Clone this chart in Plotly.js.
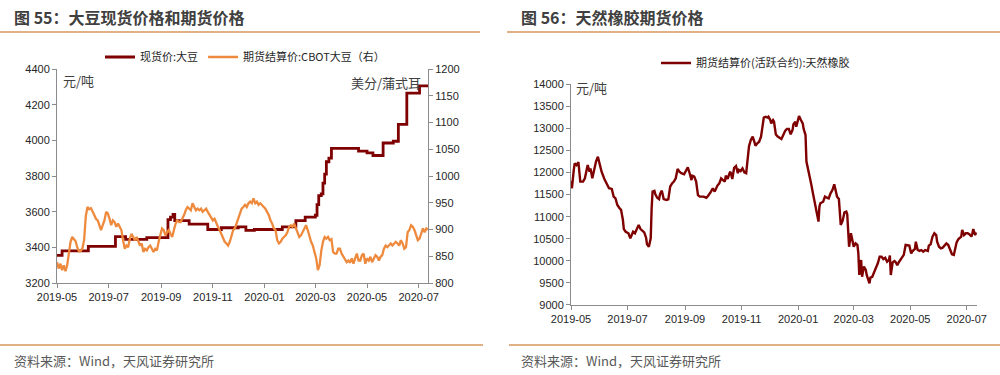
<!DOCTYPE html>
<html><head><meta charset="utf-8">
<script src="https://cdn.plot.ly/plotly-3.0.1.min.js"></script>
<style>html,body{margin:0;padding:0;background:#fff}#chart{width:1000px;height:375px}</style>
</head><body><div id="chart"></div>
<script>
// ---------- Chart 55: soybean spot (left axis) & CBOT futures (right axis) ----------
const spotDates = ['2019-05-01','2019-05-07','2019-06-07','2019-07-09','2019-07-21','2019-08-15','2019-09-07','2019-09-09','2019-09-12','2019-09-15','2019-09-17','2019-10-04','2019-10-26','2019-11-11','2019-12-01','2019-12-10','2019-12-20','2020-01-22','2020-02-07','2020-02-18','2020-03-01','2020-03-03','2020-03-05','2020-03-08','2020-03-10','2020-03-12','2020-03-14','2020-03-17','2020-03-20','2020-04-21','2020-05-01','2020-05-08','2020-05-20','2020-06-01','2020-06-07','2020-06-17','2020-07-02','2020-07-12'];
const spotValues = [3355,3380,3405,3460,3445,3455,3455,3555,3570,3585,3550,3530,3500,3510,3515,3495,3500,3515,3550,3570,3580,3640,3690,3700,3760,3810,3880,3900,3955,3940,3930,3915,3985,3995,4090,4265,4305,4305];

const cbotDates = [
'2019-05-01','2019-05-03','2019-05-05','2019-05-07','2019-05-09','2019-05-11','2019-05-13','2019-05-15','2019-05-17','2019-05-19','2019-05-21','2019-05-23','2019-05-25','2019-05-27','2019-05-29','2019-05-31',
'2019-06-02','2019-06-04','2019-06-06','2019-06-08','2019-06-10','2019-06-12','2019-06-14','2019-06-16','2019-06-18','2019-06-20','2019-06-22','2019-06-24','2019-06-26','2019-06-28','2019-06-30',
'2019-07-02','2019-07-04','2019-07-06','2019-07-08','2019-07-10','2019-07-12','2019-07-14','2019-07-16','2019-07-18','2019-07-20','2019-07-22','2019-07-24','2019-07-26','2019-07-28','2019-07-30',
'2019-08-01','2019-08-03','2019-08-05','2019-08-07','2019-08-09','2019-08-11','2019-08-13','2019-08-15','2019-08-17','2019-08-19','2019-08-21','2019-08-23','2019-08-25','2019-08-27','2019-08-29','2019-08-31',
'2019-09-02','2019-09-04','2019-09-06','2019-09-08','2019-09-10','2019-09-12','2019-09-14','2019-09-16','2019-09-18','2019-09-20','2019-09-22','2019-09-24','2019-09-26','2019-09-28','2019-09-30',
'2019-10-02','2019-10-04','2019-10-06','2019-10-08','2019-10-10','2019-10-12','2019-10-14','2019-10-16','2019-10-18','2019-10-20','2019-10-22','2019-10-24','2019-10-26','2019-10-28','2019-10-30',
'2019-11-01','2019-11-03','2019-11-05','2019-11-07','2019-11-09','2019-11-11','2019-11-13','2019-11-15','2019-11-17','2019-11-19','2019-11-21','2019-11-23','2019-11-25','2019-11-27','2019-11-29',
'2019-12-01','2019-12-03','2019-12-05','2019-12-07','2019-12-09','2019-12-11','2019-12-13','2019-12-15','2019-12-17','2019-12-19','2019-12-21','2019-12-23','2019-12-25','2019-12-27','2019-12-29','2019-12-31',
'2020-01-02','2020-01-04','2020-01-06','2020-01-08','2020-01-10','2020-01-12','2020-01-14','2020-01-16','2020-01-18','2020-01-20','2020-01-22','2020-01-24','2020-01-26','2020-01-28','2020-01-30',
'2020-02-01','2020-02-03','2020-02-05','2020-02-07','2020-02-09','2020-02-11','2020-02-13','2020-02-15','2020-02-17','2020-02-19','2020-02-21','2020-02-23','2020-02-25','2020-02-27','2020-02-29',
'2020-03-02','2020-03-04','2020-03-06','2020-03-08','2020-03-10','2020-03-12','2020-03-14','2020-03-16','2020-03-18','2020-03-20','2020-03-22','2020-03-24','2020-03-26','2020-03-28','2020-03-30',
'2020-04-01','2020-04-03','2020-04-05','2020-04-07','2020-04-09','2020-04-11','2020-04-13','2020-04-15','2020-04-17','2020-04-19','2020-04-21','2020-04-23','2020-04-25','2020-04-27','2020-04-29',
'2020-05-01','2020-05-03','2020-05-05','2020-05-07','2020-05-09','2020-05-11','2020-05-13','2020-05-15','2020-05-17','2020-05-19','2020-05-21','2020-05-23','2020-05-25','2020-05-27','2020-05-29','2020-05-31',
'2020-06-02','2020-06-04','2020-06-06','2020-06-08','2020-06-10','2020-06-12','2020-06-14','2020-06-16','2020-06-18','2020-06-20','2020-06-22','2020-06-24','2020-06-26','2020-06-28','2020-06-30',
'2020-07-02','2020-07-04','2020-07-06','2020-07-08','2020-07-10','2020-07-12'];
const cbotValues = [
839,827,836,824,833,822,833,852,877,886,882,878,866,859,860,865,880,925,942,938,940,932,927,920,917,908,
899,908,917,933,930,920,908,917,914,905,911,905,899,880,864,870,867,883,892,886,880,886,877,870,874,858,864,861,867,870,864,858,864,861,877,892,902,899,889,895,899,892,886,899,911,917,914,914,920,927,936,942,
939,936,949,942,936,939,936,939,933,936,939,933,927,920,917,920,911,905,899,892,886,877,874,870,877,889,899,902,911,920,933,939,942,946,942,949,952,949,958,949,952,946,949,946,942,939,933,927,917,911,902,899,
880,874,877,883,886,889,895,905,908,905,911,902,895,886,889,895,902,908,899,886,877,870,858,846,824,833,860,877,886,883,886,880,882,858,855,855,864,864,855,849,846,839,842,838,846,836,846,855,842,842,852,855,
836,846,842,849,839,846,852,849,842,849,852,864,870,867,870,874,870,874,877,874,870,880,874,864,867,895,899,908,905,899,889,880,883,895,902,895,902,900];

// ---------- Chart 56: natural rubber futures ----------
const rubberDates = [
'2019-05-01','2019-05-02','2019-05-04','2019-05-05','2019-05-07','2019-05-09','2019-05-11','2019-05-14','2019-05-16','2019-05-18',
'2019-05-19','2019-05-21','2019-05-22','2019-05-24','2019-05-26','2019-05-28','2019-05-30','2019-06-01','2019-06-03','2019-06-06',
'2019-06-09','2019-06-11','2019-06-14','2019-06-16','2019-06-18','2019-06-20','2019-06-22','2019-06-24','2019-06-26','2019-06-27',
'2019-06-29','2019-07-02','2019-07-04','2019-07-06','2019-07-07','2019-07-09','2019-07-11','2019-07-13','2019-07-15','2019-07-17',
'2019-07-19','2019-07-21','2019-07-22','2019-07-24','2019-07-26','2019-07-27','2019-07-28','2019-07-30','2019-07-31','2019-08-02',
'2019-08-04','2019-08-05','2019-08-07','2019-08-09','2019-08-12','2019-08-14','2019-08-16','2019-08-18','2019-08-20','2019-08-22',
'2019-08-24','2019-08-26','2019-08-28','2019-08-31','2019-09-02','2019-09-04','2019-09-06','2019-09-08','2019-09-09','2019-09-11',
'2019-09-13','2019-09-15','2019-09-17','2019-09-21','2019-09-24','2019-09-26','2019-09-29','2019-10-01','2019-10-03','2019-10-05',
'2019-10-06','2019-10-08','2019-10-10','2019-10-12','2019-10-14','2019-10-15','2019-10-17','2019-10-19','2019-10-20','2019-10-22',
'2019-10-24','2019-10-26','2019-10-28','2019-10-29','2019-10-31','2019-11-02','2019-11-04','2019-11-06','2019-11-07','2019-11-09',
'2019-11-11','2019-11-13','2019-11-15','2019-11-16','2019-11-18','2019-11-20','2019-11-22','2019-11-24','2019-11-25','2019-11-27',
'2019-11-29','2019-11-30','2019-12-02','2019-12-03','2019-12-05','2019-12-06','2019-12-08','2019-12-10','2019-12-12','2019-12-14',
'2019-12-16','2019-12-18','2019-12-20','2019-12-22','2019-12-24','2019-12-26','2019-12-27','2019-12-29','2019-12-30','2020-01-01',
'2020-01-02','2020-01-04','2020-01-06','2020-01-07','2020-01-09','2020-01-10','2020-01-13','2020-01-15','2020-01-17','2020-01-19',
'2020-01-21','2020-01-23','2020-01-24','2020-01-25','2020-01-28','2020-01-30','2020-02-01','2020-02-03','2020-02-05','2020-02-07',
'2020-02-09','2020-02-11','2020-02-12','2020-02-14','2020-02-16','2020-02-18','2020-02-20','2020-02-22','2020-02-23','2020-02-25',
'2020-02-27','2020-02-28','2020-03-01','2020-03-03','2020-03-05','2020-03-06','2020-03-07','2020-03-09','2020-03-10','2020-03-12',
'2020-03-14','2020-03-15','2020-03-18','2020-03-19','2020-03-21','2020-03-23','2020-03-25','2020-03-27','2020-03-29','2020-03-31',
'2020-04-02','2020-04-04','2020-04-06','2020-04-08','2020-04-09','2020-04-10','2020-04-12','2020-04-14','2020-04-15','2020-04-17',
'2020-04-19','2020-04-21','2020-04-23','2020-04-24','2020-04-26','2020-04-28','2020-04-30','2020-05-02','2020-05-03','2020-05-06',
'2020-05-07','2020-05-09','2020-05-11','2020-05-13','2020-05-15','2020-05-17','2020-05-20','2020-05-21','2020-05-23','2020-05-25',
'2020-05-27','2020-05-29','2020-05-30','2020-06-01','2020-06-03','2020-06-05','2020-06-07','2020-06-09','2020-06-11','2020-06-13',
'2020-06-15','2020-06-17','2020-06-18','2020-06-20','2020-06-22','2020-06-25','2020-06-26','2020-06-28','2020-06-30','2020-07-02',
'2020-07-04','2020-07-06','2020-07-07','2020-07-08','2020-07-10','2020-07-11'];
const rubberValues = [
11810,11645,12060,12210,12170,12235,11795,11795,11870,12135,
12170,12020,12095,11870,12060,12250,12360,12170,12020,11855,
11720,11645,11630,11455,11415,11265,11205,11155,10925,10720,
10660,10625,10510,10625,10660,10625,10735,10815,10720,10675,
10645,10525,10375,10320,10510,11190,11570,11585,11510,11430,
11400,11510,11590,11400,11380,11395,11680,11755,11795,11870,
12080,12020,11985,11960,12035,12120,11985,11830,11930,11910,
11795,11490,11455,11455,11430,11475,11570,11645,11570,11660,
11705,11755,11870,11830,11795,11930,11855,11985,12020,11855,
12110,12150,11985,12060,12035,12095,12005,11985,12250,12590,
12740,12815,12685,12610,12665,12700,12815,13115,13245,13265,
13245,13265,13190,13115,13190,13155,12865,12815,12790,12760,
12850,12945,12990,12990,12865,12965,13095,13155,13040,13230,
13280,13190,13115,12990,12850,12250,11985,11755,11530,11305,
11075,10890,11230,11305,11340,11455,11430,11415,11530,11605,
11735,11570,11455,11400,10815,10905,11100,11115,11055,10320,
10625,10525,10320,10395,10360,10170,9680,10020,9640,9870,
9795,9680,9490,9620,9640,9740,9830,9945,10095,10095,
10040,10070,9980,10020,10120,9680,9965,9995,9980,9905,
9980,10040,10095,10135,10360,10360,10345,10170,10210,10270,
10435,10245,10225,10245,10210,10245,10225,10345,10375,10550,
10625,10585,10435,10320,10285,10300,10345,10395,10360,10270,
10150,10135,10245,10420,10495,10550,10700,10585,10625,10625,
10600,10550,10625,10720,10585,10645];

// ---------- Axis ticks & text ----------
const xTickVals = ['2019-05-01','2019-07-01','2019-09-01','2019-11-01','2020-01-01','2020-03-01','2020-05-01','2020-07-01'];
const xTickText = ['2019-05','2019-07','2019-09','2019-11','2020-01','2020-03','2020-05','2020-07'];
const names = {spot:'现货价:大豆', cbot:'期货结算价:CBOT大豆（右）', rubber:'期货结算价(活跃合约):天然橡胶'};
const titles = {left:'图 55：大豆现货价格和期货价格', right:'图 56：天然橡胶期货价格'};
const sourceText = '资料来源：Wind，天风证券研究所';

const DARK = '#7f0000', ORANGE = '#ee8a3d', AX = '#8c8c8c', TXT = '#262626', RULE = '#d8965c';
const NUMFONT = 'Liberation Sans, Arial, sans-serif';
const CJK = 'Noto Sans CJK SC, sans-serif';

const traces = [
  {x: spotDates, y: spotValues, name: names.spot, type:'scatter', mode:'lines', line:{color:DARK, width:2.8, shape:'hv'}, xaxis:'x', yaxis:'y', legend:'legend'},
  {x: cbotDates, y: cbotValues, name: names.cbot, type:'scatter', mode:'lines', line:{color:ORANGE, width:2.3}, xaxis:'x', yaxis:'y2', legend:'legend'},
  {x: rubberDates, y: rubberValues, name: names.rubber, type:'scatter', mode:'lines', line:{color:DARK, width:2.4}, xaxis:'x2', yaxis:'y3', legend:'legend2'}
];

const axBase = {showline:true, linecolor:AX, linewidth:1, ticks:'outside', ticklen:4, tickcolor:AX, showgrid:false, zeroline:false, tickfont:{family:NUMFONT, size:11, color:TXT}, fixedrange:true};

const layout = {
  width:1000, height:375, margin:{l:0,r:0,t:0,b:0}, paper_bgcolor:'#fff', plot_bgcolor:'#fff',
  font:{family:CJK, color:TXT},
  showlegend:true,
  xaxis: Object.assign({}, axBase, {type:'date', domain:[0.057,0.428], anchor:'y', range:['2019-05-01','2020-07-12'], tickmode:'array', tickvals:xTickVals, ticktext:xTickText}),
  yaxis: Object.assign({}, axBase, {domain:[0.2453,0.816], anchor:'x', range:[3200,4400], dtick:200, tick0:3200, tickformat:'d'}),
  yaxis2: Object.assign({}, axBase, {overlaying:'y', side:'right', anchor:'x', range:[800,1200], dtick:50, tick0:800, tickformat:'d'}),
  xaxis2: Object.assign({}, axBase, {type:'date', domain:[0.571,0.977], anchor:'y3', range:['2019-05-01','2020-07-12'], tickmode:'array', tickvals:xTickVals, ticktext:xTickText}),
  yaxis3: Object.assign({}, axBase, {domain:[0.1867,0.7752], anchor:'x2', range:[9000,14000], dtick:500, tick0:9000, tickformat:'d'}),
  legend: {orientation:'h', x:0.100, y:0.848, xanchor:'left', yanchor:'middle', font:{family:CJK, size:11, color:TXT}, bgcolor:'rgba(0,0,0,0)', itemwidth:30},
  legend2: {orientation:'h', x:0.656, y:0.832, xanchor:'left', yanchor:'middle', font:{family:CJK, size:11, color:TXT}, bgcolor:'rgba(0,0,0,0)', itemwidth:30},
  shapes: [
    {type:'line', xref:'paper', yref:'paper', x0:0, x1:0.48, y0:1-32/375, y1:1-32/375, line:{color:RULE, width:1.5}},
    {type:'line', xref:'paper', yref:'paper', x0:0.507, x1:1, y0:1-32/375, y1:1-32/375, line:{color:RULE, width:1.5}},
    {type:'line', xref:'paper', yref:'paper', x0:0, x1:0.483, y0:1-345/375, y1:1-345/375, line:{color:RULE, width:1.5}},
    {type:'line', xref:'paper', yref:'paper', x0:0.509, x1:1, y0:1-345/375, y1:1-345/375, line:{color:RULE, width:1.5}}
  ],
  annotations: [
    {text:'<b>'+titles.left+'</b>', xref:'paper', yref:'paper', x:0.012, y:1-17/375, xanchor:'left', yanchor:'middle', showarrow:false, font:{family:CJK, size:16, color:'#404040'}},
    {text:'<b>'+titles.right+'</b>', xref:'paper', yref:'paper', x:0.519, y:1-17/375, xanchor:'left', yanchor:'middle', showarrow:false, font:{family:CJK, size:16, color:'#404040'}},
    {text:sourceText, xref:'paper', yref:'paper', x:0.012, y:1-360/375, xanchor:'left', yanchor:'middle', showarrow:false, font:{family:CJK, size:13, color:'#595959'}},
    {text:sourceText, xref:'paper', yref:'paper', x:0.519, y:1-360/375, xanchor:'left', yanchor:'middle', showarrow:false, font:{family:CJK, size:13, color:'#595959'}},
    {text:'元/吨', xref:'paper', yref:'paper', x:0.061, y:1-80/375, xanchor:'left', yanchor:'middle', showarrow:false, font:{family:CJK, size:13, color:'#404040'}},
    {text:'美分/蒲式耳', xref:'paper', yref:'paper', x:0.423, y:1-82/375, xanchor:'right', yanchor:'middle', showarrow:false, font:{family:CJK, size:13, color:'#404040'}},
    {text:'元/吨', xref:'paper', yref:'paper', x:0.574, y:1-87/375, xanchor:'left', yanchor:'middle', showarrow:false, font:{family:CJK, size:13, color:'#404040'}}
  ]
};

Plotly.newPlot('chart', traces, layout, {displayModeBar:false, staticPlot:true});
</script>
</body></html>
